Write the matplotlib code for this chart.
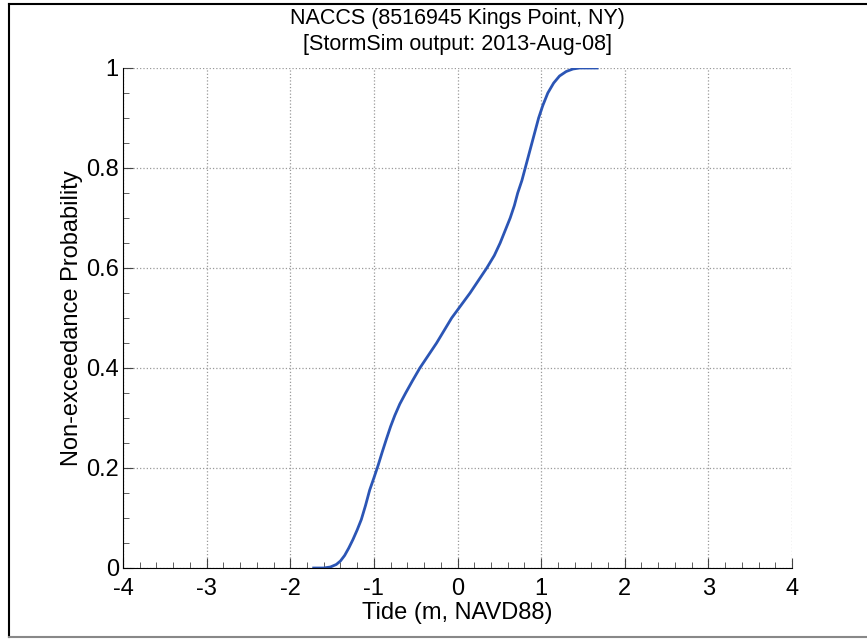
import matplotlib
matplotlib.use('Agg')
import matplotlib.pyplot as plt
from matplotlib.lines import Line2D
from matplotlib.ticker import MultipleLocator

plt.rcParams['font.family'] = ['Liberation Sans', 'DejaVu Sans']
plt.rcParams['axes.unicode_minus'] = False

tide = [-1.72, -1.60, -1.52, -1.45, -1.40, -1.35, -1.30, -1.25, -1.20, -1.15,
        -1.10, -1.05, -1.00, -0.95, -0.90, -0.85, -0.80, -0.75, -0.69, -0.62,
        -0.54, -0.45, -0.35, -0.25, -0.16, -0.07, 0.04, 0.15, 0.25, 0.35,
        0.44, 0.51, 0.57, 0.63, 0.68, 0.72, 0.77, 0.81, 0.85, 0.89,
        0.93, 0.97, 1.02, 1.08, 1.15, 1.22, 1.30, 1.38, 1.46, 1.67]
prob = [0.0, 0.0, 0.002, 0.007, 0.014, 0.025, 0.040, 0.057, 0.076, 0.097,
        0.125, 0.156, 0.180, 0.205, 0.232, 0.258, 0.283, 0.305, 0.328, 0.350,
        0.374, 0.400, 0.425, 0.450, 0.475, 0.500, 0.525, 0.550, 0.575, 0.600,
        0.625, 0.650, 0.675, 0.700, 0.725, 0.750, 0.775, 0.800, 0.825, 0.850,
        0.875, 0.900, 0.925, 0.950, 0.970, 0.984, 0.993, 0.998, 1.0, 1.0]

title = 'NACCS (8516945 Kings Point, NY)\n[StormSim output: 2013-Aug-08]'

fig = plt.figure(figsize=(8.67, 6.39), dpi=100)
ax = fig.add_axes([123 / 867, 1 - 568 / 639, (792 - 123) / 867, 500 / 639])

ax.plot(tide, prob, color='#2b55b5', lw=2.0)

ax.set_xlim(-4, 4)
ax.set_ylim(0, 1)
ax.xaxis.set_major_locator(MultipleLocator(1))
ax.xaxis.set_minor_locator(MultipleLocator(0.2))
ax.yaxis.set_minor_locator(MultipleLocator(0.05))
ax.set_yticks([0, 0.2, 0.4, 0.6, 0.8, 1.0])
ax.set_yticklabels(['0', '0.2', '0.4', '0.6', '0.8', '1'])
ax.tick_params(which='both', direction='in', labelsize=17, color='#444444')
ax.tick_params(which='major', length=7)
ax.tick_params(axis='x', which='major', pad=7)
ax.tick_params(axis='y', which='major', pad=3)
ax.tick_params(which='minor', length=4)
ax.spines['top'].set_visible(False)
ax.spines['right'].set_visible(False)
ax.grid(True, which='major', linestyle=':', color='#999999', lw=0.9)
ax.set_axisbelow(True)

ax.set_xlabel('Tide (m, NAVD88)', fontsize=17, labelpad=2)
ax.set_ylabel('Non-exceedance Probability', fontsize=17, labelpad=2)
ax.set_title(title, fontsize=15.5, pad=13, linespacing=1.3)

# figure frame
fig.add_artist(Line2D([9 / 867, 9 / 867], [1 - 4 / 639, 1 - 637 / 639], color='black', lw=1.5))
fig.add_artist(Line2D([9 / 867, 1.0], [1 - 4 / 639, 1 - 4 / 639], color='black', lw=1.5))
fig.add_artist(Line2D([9 / 867, 1.0], [1 - 637 / 639, 1 - 637 / 639], color='#888888', lw=1.5))

fig.savefig('out.png', dpi=100)
